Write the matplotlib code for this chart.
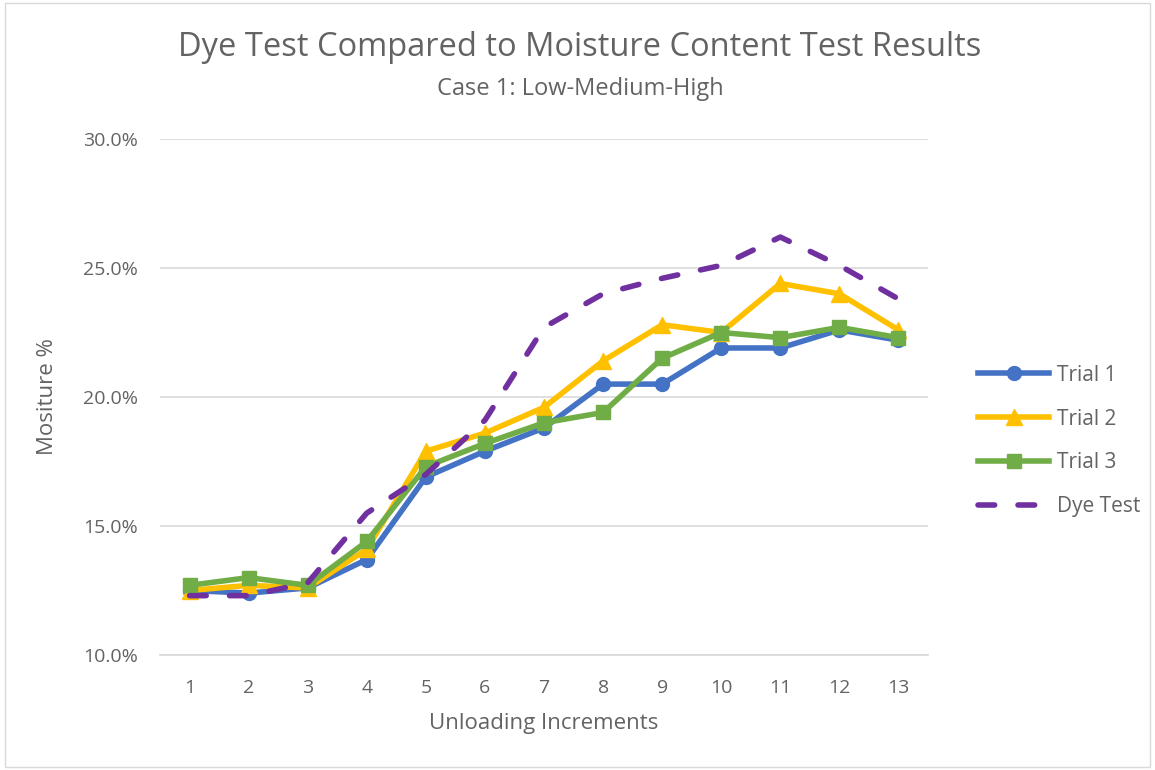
import matplotlib.pyplot as plt
from matplotlib.ticker import FuncFormatter
from matplotlib.patches import Rectangle

increments = [1, 2, 3, 4, 5, 6, 7, 8, 9, 10, 11, 12, 13]
trial1 = [12.5, 12.4, 12.6, 13.7, 16.9, 17.9, 18.8, 20.5, 20.5, 21.9, 21.9, 22.6, 22.2]
trial2 = [12.5, 12.7, 12.6, 14.1, 17.9, 18.6, 19.6, 21.4, 22.8, 22.5, 24.4, 24.0, 22.6]
trial3 = [12.7, 13.0, 12.7, 14.4, 17.3, 18.2, 19.0, 19.4, 21.5, 22.5, 22.3, 22.7, 22.3]
dye    = [12.3, 12.3, 12.8, 15.5, 17.0, 19.1, 22.7, 24.0, 24.6, 25.1, 26.2, 25.1, 23.8]

txt = '#636363'
plt.rcParams['font.family'] = ['Open Sans', 'DejaVu Sans']

fig = plt.figure(figsize=(11.55, 7.7), dpi=100)
ax = fig.add_axes([160/1155, 1-655/770, (928-160)/1155, (655-139)/770])

ax.plot(increments, trial1, color='#4472C4', lw=4, marker='o', ms=10, label='Trial 1', zorder=3)
ax.plot(increments, trial2, color='#FFC000', lw=4, marker='^', ms=11, label='Trial 2', zorder=3)
ax.plot(increments, trial3, color='#70AD47', lw=4, marker='s', ms=10, label='Trial 3', zorder=4)
ax.plot(increments, dye, color='#7030A0', lw=4, ls=(0, (3.0, 4.2)), dash_capstyle='round',
        label='Dye Test', zorder=5)

ax.set_xlim(0.5, 13.5)
ax.set_ylim(10, 30)
ax.set_xticks(increments)
ax.set_yticks([10, 15, 20, 25, 30])
ax.yaxis.set_major_formatter(FuncFormatter(lambda v, p: '%.1f%%' % v))
ax.tick_params(length=0, labelsize=14, colors=txt)
ax.tick_params(axis='x', pad=17)
ax.tick_params(axis='y', pad=16)
ax.grid(axis='y', color='#d9d9d9', lw=1.2)
for s in ['top', 'right', 'left']:
    ax.spines[s].set_visible(False)
ax.spines['bottom'].set_color('#d9d9d9')
ax.spines['bottom'].set_linewidth(1.2)
ax.set_axisbelow(True)

ax.set_xlabel('Unloading Increments', fontsize=16, color=txt, labelpad=12)
ax.set_ylabel('Mositure %', fontsize=16, color=txt, labelpad=18)

fig.text(580/1155, 1-48/770, 'Dye Test Compared to Moisture Content Test Results',
         ha='center', va='center', fontsize=23.5, color=txt)
fig.text(580/1155, 1-89/770, 'Case 1: Low-Medium-High',
         ha='center', va='center', fontsize=17, color=txt)

leg = ax.legend(loc='center left', bbox_to_anchor=(968/1155, 1-441/770),
                bbox_transform=fig.transFigure, frameon=False, fontsize=15, borderpad=0,
                handlelength=3.4, labelspacing=1.1, handletextpad=0.35)
for t in leg.get_texts():
    t.set_color(txt)

fig.patches.append(Rectangle((0.004, 0.004), 0.992, 0.992, transform=fig.transFigure,
                             fill=False, edgecolor='#d9d9d9', lw=1))

fig.savefig('out.png', dpi=100)
